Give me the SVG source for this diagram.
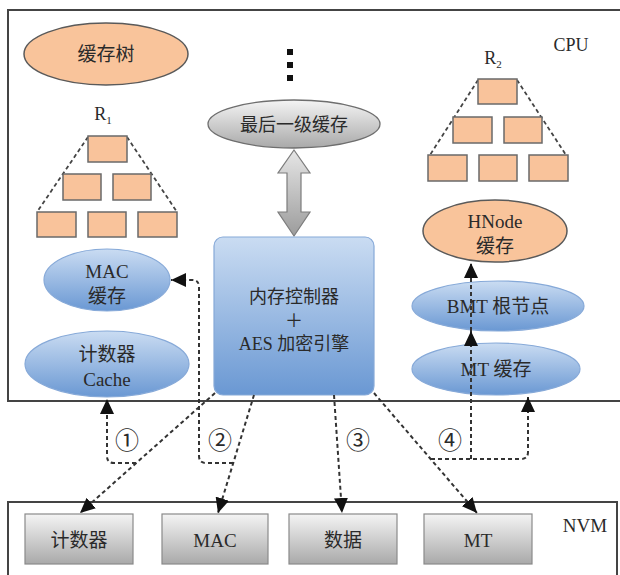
<svg xmlns="http://www.w3.org/2000/svg" width="620" height="575" viewBox="0 0 620 575">
  <defs>
    <linearGradient id="gBlue" x1="0" y1="0" x2="0" y2="1">
      <stop offset="0" stop-color="#cadcf2"/>
      <stop offset="1" stop-color="#6a98d3"/>
    </linearGradient>
    <linearGradient id="gGray" x1="0" y1="0" x2="0" y2="1">
      <stop offset="0" stop-color="#f4f4f4"/>
      <stop offset="1" stop-color="#a9a9a9"/>
    </linearGradient>
    <linearGradient id="gArrow" x1="0" y1="0" x2="0" y2="1">
      <stop offset="0" stop-color="#e6e6e6"/>
      <stop offset="1" stop-color="#9c9c9c"/>
    </linearGradient>
    <marker id="head" markerUnits="userSpaceOnUse" markerWidth="16" markerHeight="14" refX="15" refY="7" orient="auto">
      <path d="M0,0 L15,7 L0,14 z" fill="#111"/>
    </marker>
    <style>
      text { font-family: "Liberation Serif", "Noto Sans CJK SC", serif; fill: #2a2a2a; text-anchor: middle; }
      .t18 { font-size: 18px; }
      .t19 { font-size: 19px; }
      .num { font-size: 24px; }
      .frame { fill: none; stroke: #444; stroke-width: 2; }
      .orange { fill: #f9c49b; stroke: #5a5a5a; stroke-width: 1.5; }
      .blk { fill: #f9c39b; stroke: #6a6a6a; stroke-width: 1.5; }
      .blue { fill: url(#gBlue); stroke: #86a9d8; stroke-width: 1.2; }
      .gray { fill: url(#gGray); stroke: #8a8a8a; stroke-width: 1.2; }
      .tree { fill: none; stroke: #444; stroke-width: 1.8; stroke-dasharray: 4 3; }
      .link { fill: none; stroke: #333; stroke-width: 2; stroke-dasharray: 4 3; }
      .arrowed { marker-end: url(#head); }
    </style>
  </defs>

  <!-- CPU and NVM regions -->
  <g id="cpu">
    <rect class="frame" x="8" y="10" width="622" height="391"/>
    <text class="t18" x="571" y="51">CPU</text>
  </g>
  <g id="nvm">
    <rect class="frame" x="8" y="502" width="609" height="100"/>
    <text class="t19" x="585" y="532">NVM</text>
  </g>

  <!-- cache tree label -->
  <g id="cache-tree">
    <ellipse class="orange" cx="106" cy="54" rx="82" ry="31"/>
    <text class="t19" x="106" y="61">缓存树</text>
  </g>

  <!-- upper cache levels -->
  <g id="dots" fill="#111">
    <rect x="287" y="49" width="6" height="6"/>
    <rect x="287" y="62" width="6" height="6"/>
    <rect x="287" y="75" width="6" height="6"/>
  </g>

  <!-- tree R1 -->
  <g id="tree-r1">
    <text class="t18" x="103" y="120">R<tspan font-size="11" dy="4">1</tspan></text>
    <path class="tree" d="M88,137 L37,212 M127,137 L177,212"/>
    <rect class="blk" x="88" y="136" width="39" height="26"/>
    <rect class="blk" x="63" y="174" width="38" height="26"/>
    <rect class="blk" x="113" y="174" width="38" height="26"/>
    <rect class="blk" x="37" y="212" width="39" height="25"/>
    <rect class="blk" x="88" y="212" width="38" height="25"/>
    <rect class="blk" x="138" y="212" width="39" height="25"/>
  </g>

  <!-- tree R2 -->
  <g id="tree-r2">
    <text class="t18" x="493" y="64">R<tspan font-size="11" dy="4">2</tspan></text>
    <path class="tree" d="M478,80 L430,155 M517,80 L566,155"/>
    <rect class="blk" x="478" y="79" width="39" height="25"/>
    <rect class="blk" x="453" y="117" width="39" height="26"/>
    <rect class="blk" x="504" y="117" width="38" height="26"/>
    <rect class="blk" x="428" y="155" width="39" height="26"/>
    <rect class="blk" x="479" y="155" width="38" height="26"/>
    <rect class="blk" x="529" y="155" width="39" height="26"/>
  </g>

  <!-- last level cache -->
  <g id="llc">
    <ellipse cx="294" cy="124" rx="86" ry="24" fill="url(#gGray)" stroke="#6e6e6e" stroke-width="1.3"/>
    <text class="t18" x="294" y="131">最后一级缓存</text>
  </g>

  <!-- bidirectional transfer between LLC and controller -->
  <g id="llc-link">
    <polygon points="294,150 310,173 301,173 301,212 310,212 294,236 278,212 287,212 287,173 278,173" fill="url(#gArrow)" stroke="#7c7c7c" stroke-width="1.2"/>
  </g>

  <!-- memory controller -->
  <g id="controller">
    <rect class="blue" x="214" y="237" width="160" height="158" rx="9"/>
    <text class="t18" x="294" y="303">内存控制器</text>
    <text class="t18" x="294" y="327">＋</text>
    <text class="t18" x="294" y="350">AES 加密引擎</text>
  </g>

  <!-- on-chip metadata caches -->
  <g id="mac-cache">
    <ellipse class="blue" cx="107" cy="280" rx="63" ry="31"/>
    <text class="t19" x="107" y="278">MAC</text>
    <text class="t19" x="107" y="303">缓存</text>
  </g>
  <g id="counter-cache">
    <ellipse class="blue" cx="107" cy="364" rx="82" ry="33"/>
    <text class="t19" x="107" y="361">计数器</text>
    <text class="t19" x="107" y="386">Cache</text>
  </g>
  <g id="hnode-cache">
    <ellipse class="orange" cx="495" cy="231" rx="72" ry="31"/>
    <text class="t19" x="495" y="228">HNode</text>
    <text class="t19" x="495" y="253">缓存</text>
  </g>
  <g id="bmt-root">
    <ellipse class="blue" cx="498" cy="306" rx="86" ry="25"/>
    <text class="t19" x="498" y="313">BMT 根节点</text>
  </g>
  <g id="mt-cache">
    <ellipse class="blue" cx="496" cy="369" rx="84" ry="26"/>
    <text class="t19" x="496" y="376">MT 缓存</text>
  </g>

  <!-- NVM contents -->
  <g id="nvm-counter">
    <rect class="gray" x="25" y="514" width="108" height="50"/>
    <text class="t19" x="79" y="547">计数器</text>
  </g>
  <g id="nvm-mac">
    <rect class="gray" x="162" y="514" width="106" height="50"/>
    <text class="t19" x="215" y="547">MAC</text>
  </g>
  <g id="nvm-data">
    <rect class="gray" x="289" y="514" width="108" height="50"/>
    <text class="t19" x="343" y="547">数据</text>
  </g>
  <g id="nvm-mt">
    <rect class="gray" x="424" y="514" width="108" height="50"/>
    <text class="t19" x="478" y="547">MT</text>
  </g>

  <!-- data paths -->
  <g id="connectors">
    <path class="link arrowed" d="M215,393 L80,513"/>
    <path class="link arrowed" d="M136,463 H114 Q107,463 107,456 V399"/>
    <path class="link arrowed" d="M254,395 L218,513"/>
    <path class="link arrowed" d="M233,463 H206 Q199,463 199,456 V287 Q199,280 192,280 H171"/>
    <path class="link arrowed" d="M334,395 L342,513"/>
    <path class="link arrowed" d="M374,393 L477,513"/>
    <path class="link arrowed" d="M431,459 H521 Q528,459 528,452 V397"/>
    <path class="link arrowed" d="M471,459 V331"/>
    <path class="link arrowed" d="M471,331 V263"/>
    <text class="num" x="127" y="449">①</text>
    <text class="num" x="220" y="449">②</text>
    <text class="num" x="358" y="449">③</text>
    <text class="num" x="450" y="449">④</text>
  </g>
</svg>
